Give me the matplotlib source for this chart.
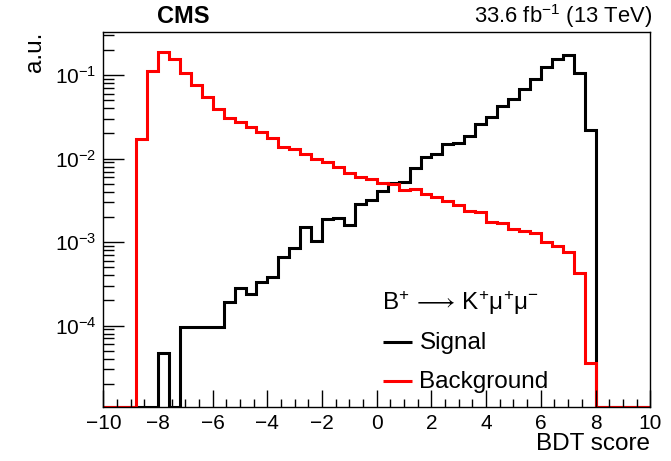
import numpy as np
import matplotlib
matplotlib.use("Agg")
import matplotlib.pyplot as plt
from matplotlib.ticker import MultipleLocator, LogLocator, LogFormatterSciNotation, NullFormatter

plt.rcParams['font.family'] = ['Liberation Sans', 'DejaVu Sans']
plt.rcParams['mathtext.fontset'] = 'custom'
plt.rcParams['mathtext.rm'] = 'Liberation Sans'
plt.rcParams['mathtext.it'] = 'Liberation Sans:italic'
plt.rcParams['mathtext.bf'] = 'Liberation Sans:bold'

# binning of the BDT score: 50 bins from -10 to 10
edges = np.linspace(-10, 10, 51)

# normalised signal distribution (a.u.)
signal = [
    0, 0, 0, 0, 0,
    4.7e-5, 0, 9.6e-5, 9.6e-5, 9.6e-5,
    9.6e-5, 1.9e-4, 2.85e-4, 2.37e-4, 3.3e-4,
    3.8e-4, 6.65e-4, 8.5e-4, 1.51e-3, 1.03e-3,
    1.88e-3, 1.96e-3, 1.61e-3, 2.84e-3, 3.21e-3,
    4.04e-3, 5.08e-3, 5.31e-3, 7.67e-3, 1.04e-2,
    1.13e-2, 1.49e-2, 1.53e-2, 1.87e-2, 2.59e-2,
    3.14e-2, 4.29e-2, 5.15e-2, 6.86e-2, 8.96e-2,
    0.126, 0.158, 0.172, 0.105, 2.21e-2,
    0, 0, 0, 0, 0,
]

# normalised background distribution (a.u.)
background = [
    0, 0, 0, 1.74e-2, 0.1135,
    0.189, 0.157, 0.107, 7.59e-2, 5.4e-2,
    3.92e-2, 3.05e-2, 2.76e-2, 2.38e-2, 2.11e-2,
    1.76e-2, 1.39e-2, 1.31e-2, 1.14e-2, 9.93e-3,
    9.06e-3, 7.89e-3, 6.8e-3, 6.04e-3, 5.71e-3,
    5.08e-3, 5.0e-3, 4.23e-3, 4.31e-3, 3.78e-3,
    3.51e-3, 3.14e-3, 2.79e-3, 2.38e-3, 2.28e-3,
    1.76e-3, 1.68e-3, 1.43e-3, 1.37e-3, 1.28e-3,
    1.01e-3, 9.08e-4, 7.69e-4, 4.31e-4, 3.54e-5,
    0, 0, 0, 0, 0,
]

ymin, ymax = 1.07e-5, 0.33

fig = plt.figure(figsize=(6.71, 4.61), dpi=100)
ax = fig.add_axes([0.154, 0.118, 0.815, 0.813])

# empty bins are drawn along the bottom of the frame
sig = np.where(np.array(signal) > 0, signal, ymin)
bkg = np.where(np.array(background) > 0, background, ymin)

ax.stairs(sig, edges, color='black', lw=2.2, baseline=None)
ax.stairs(bkg, edges, color='#ff0000', lw=2.2, baseline=None)

ax.set_yscale('log')
ax.set_xlim(-10, 10)
ax.set_ylim(ymin, ymax)

ax.xaxis.set_major_locator(MultipleLocator(2))
ax.xaxis.set_minor_locator(MultipleLocator(0.5))
ax.yaxis.set_major_locator(LogLocator(base=10))
ax.yaxis.set_minor_locator(LogLocator(base=10, subs=np.arange(2, 10)))
ax.yaxis.set_major_formatter(LogFormatterSciNotation())
ax.yaxis.set_minor_formatter(NullFormatter())

ax.tick_params(which='both', direction='in', labelsize=15, top=False, right=False)
ax.tick_params(axis='x', which='major', length=12, width=1, pad=5)
ax.tick_params(axis='x', which='minor', length=6, width=1)
ax.tick_params(axis='y', which='major', length=15, width=1, pad=5)
ax.tick_params(axis='y', which='minor', length=8, width=1)
for s in ax.spines.values():
    s.set_linewidth(1)

ax.set_xlabel('BDT score', fontsize=17.5, loc='right', labelpad=0)
ax.set_ylabel('a.u.', fontsize=17.5, loc='top', labelpad=6)

fig.text(0.273, 0.965, 'CMS', fontsize=17, fontweight='bold', ha='center', va='center')
fig.text(0.971, 0.965, r'33.6 fb$^{-1}$ (13 TeV)', fontsize=15.8, ha='right', va='center')

# legend block: header, then one line sample + label per histogram
tr = ax.transAxes
ax.text(0.509, 0.258, r'B$^{+}\,\longrightarrow\,$K$^{+}$μ$^{+}$μ$^{-}$', fontsize=17.5,
        transform=tr, ha='left', va='baseline')
entries = [('Signal', 'black', 0.173, 0.154),
           ('Background', '#ff0000', 0.069, 0.050)]
for label, col, yline, ytext in entries:
    ax.plot([0.512, 0.564], [yline, yline], color=col, lw=2.2, transform=tr,
            solid_capstyle='butt')
    ax.text(0.578, ytext, label, fontsize=17.5, transform=tr,
            ha='left', va='baseline')

fig.savefig('out.png', dpi=100)
